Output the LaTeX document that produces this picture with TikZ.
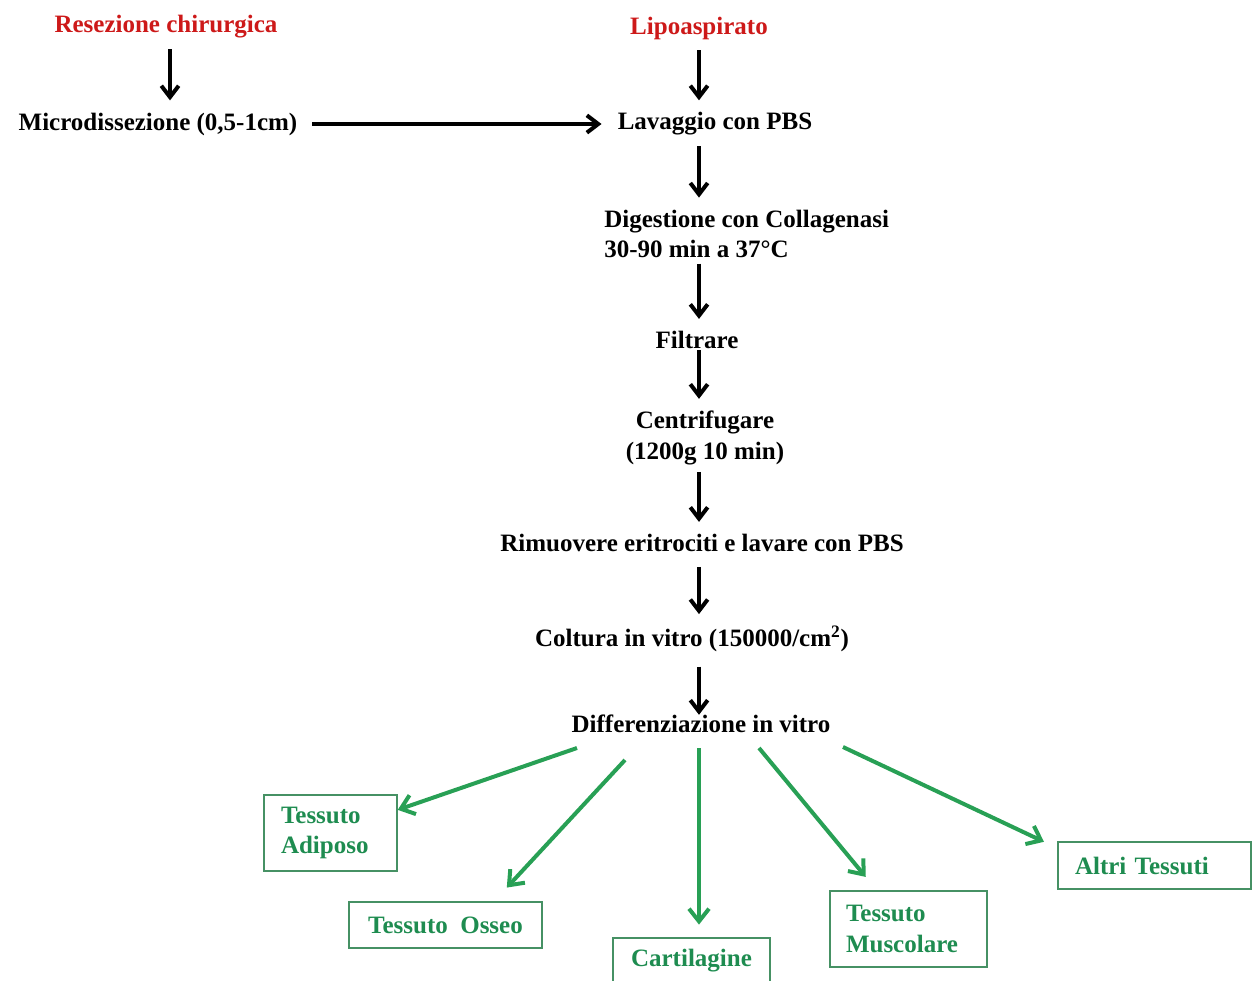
\documentclass[tikz,border=0pt]{standalone}
\usepackage{fontspec}
\setmainfont{Liberation Serif}
\usetikzlibrary{positioning,arrows.meta,calc}
\definecolor{srcred}{RGB}{205,25,25}
\definecolor{tisgreen}{RGB}{30,140,80}
\definecolor{boxgreen}{RGB}{70,145,100}
\definecolor{arrgreen}{RGB}{40,160,85}
\tikzset{
  txt/.style={inner sep=0pt, font=\fontsize{18.75}{23}\selectfont\bfseries},
  src/.style={txt, text=srcred},
  flow/.style={-{Straight Barb[length=8.5pt,width=13pt]}, line width=3pt, shorten <=8pt, shorten >=9pt},
  tissue/.style={txt, text=tisgreen, draw=boxgreen, line width=1.1pt},
  branch/.style={arrgreen, line width=3pt, -{Straight Barb[length=9.5pt,width=15pt]}}
}

\begin{document}
\begin{tikzpicture}[x=0.75pt,y=-0.75pt]
\useasboundingbox (0,0) rectangle (1258,981);
%% sources
\node [src] (resez) at (166,27) {Resezione chirurgica};
\node [src] (lipo) at (699,28) {Lipoaspirato};
%the steps
\node [txt] (micro) at (158,124) {Microdissezione (0,5-1cm)};
\node [txt] (lav) at (715,124) {Lavaggio con PBS};
\node [txt, align=left, anchor=west] (dig) at (604,234) {Digestione con Collagenasi\\30-90 min a 37°C};
\node [txt] (filt) at (697,340) {Filtrare};
\node [txt, align=center] (centr) at (705,438) {Centrifugare\\(1200g 10 min)};
\node [txt] (rim) at (702,543) {Rimuovere eritrociti e lavare con PBS};
\node [txt] (colt) at (692,639) {Coltura in vitro (150000/cm\textsuperscript{2})};
\node [txt] (diff) at (701,724) {Differenziazione in vitro};
%the tissues
\node [tissue, text width=74.25pt, inner xsep=12.75pt, minimum height=57pt, align=left] (adip) at (330.5,833) {Tessuto\\Adiposo};
\node [tissue, minimum width=144.75pt, minimum height=34.5pt] (osseo) at (445.5,925) {Tessuto\ \ Osseo};
\node [tissue, minimum width=117.75pt, minimum height=34.5pt] (cart) at (691.5,961) {Cartilagine};
\node [tissue, text width=93.75pt, inner xsep=12pt, minimum height=57pt, align=left] (musc) at (908.5,929) {Tessuto\\Muscolare};
\node [tissue, text width=119.25pt, inner xsep=12.75pt, minimum height=35.25pt, align=left] (altri) at (1154.5,865.5) {Altri Tessuti};
%axis of the main column
\coordinate (axis) at (699,0);
%drawings of black arrows
\draw[flow] (resez.south -| 170,0) -- (micro.north -| 170,0);
\draw[flow] (lipo.south -| axis) -- (lav.north -| axis);
\draw[flow, shorten <=11pt, shorten >=12pt] (micro.east) -- (lav.west);
\draw[flow] (lav.south -| axis) -- (dig.north -| axis);
\draw[flow, shorten <=4pt] (dig.south -| axis) -- (filt.north -| axis);
\draw[flow, shorten <=1pt] (filt.south -| axis) -- (centr.north -| axis);
\draw[flow, shorten <=5pt] (centr.south -| axis) -- (rim.north -| axis);
\draw[flow, shorten <=11pt] (rim.south -| axis) -- (colt.north -| axis);
\draw[flow, shorten <=11pt, shorten >=0pt] (colt.south -| axis) -- (diff.north -| axis);
%green branches
\coordinate (d1) at (577,748);
\coordinate (d2) at (625,760);
\coordinate (d3) at (699,748);
\coordinate (d4) at (759,748);
\coordinate (d5) at (843,747);
\draw[branch] (d1) -- (adip);
\draw[branch, shorten >=14pt] (d2) -- ($(osseo.north)!0.5!(osseo.north east)$);
\draw[branch, shorten >=9.5pt] (d3) -- (d3 |- cart.north);
\draw[branch, shorten >=13pt] (d4) -- ($(musc.north west)!0.3!(musc.north east)$);
\draw[branch, shorten >=11pt] (d5) -- ($(altri.north west)!0.14!(altri.south west)$);
\end{tikzpicture}
\end{document}
